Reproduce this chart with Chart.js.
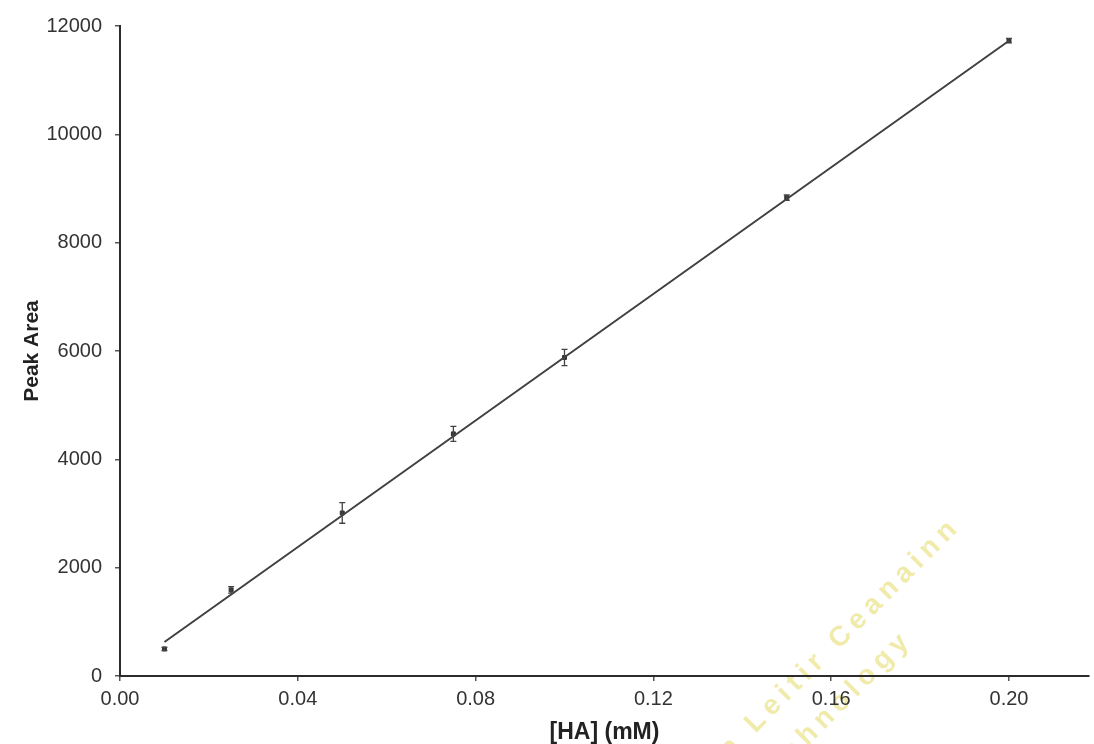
<!DOCTYPE html>
<html>
<head>
<meta charset="utf-8">
<script src="https://cdn.jsdelivr.net/npm/chart.js@4.4.0/dist/chart.umd.min.js"></script>
<style>
  html, body { margin: 0; padding: 0; background: #fff; }
  #wrap { width: 1094px; height: 744px; }
</style>
</head>
<body>
<div id="wrap"><canvas id="chart"></canvas></div>
<script>
// HA calibration data
const concs = [0.01, 0.025, 0.05, 0.075, 0.10, 0.15, 0.20];
const peakAreas = [500, 1590, 3010, 4470, 5880, 8830, 11730];
const peakErrors = [30, 60, 190, 140, 150, 50, 40];

// fitted line end points
const fitX = [0.01, 0.20];
const fitY = [628, 11727];

const xTicks = [0.00, 0.04, 0.08, 0.12, 0.16, 0.20];
const yTicks = [0, 2000, 4000, 6000, 8000, 10000, 12000];

const ink = "#2b2b2b";

// error bars
const errorBars = {
  id: "errorBars",
  afterDatasetsDraw(chart) {
    const { ctx, scales: { x, y } } = chart;
    ctx.save();
    ctx.strokeStyle = "#444";
    ctx.lineWidth = 1.3;
    concs.forEach((c, i) => {
      const px = x.getPixelForValue(c);
      const top = y.getPixelForValue(peakAreas[i] + peakErrors[i]);
      const bot = y.getPixelForValue(peakAreas[i] - peakErrors[i]);
      ctx.beginPath();
      ctx.moveTo(px, top); ctx.lineTo(px, bot);
      ctx.moveTo(px - 3, top); ctx.lineTo(px + 3, top);
      ctx.moveTo(px - 3, bot); ctx.lineTo(px + 3, bot);
      ctx.stroke();
    });
    ctx.restore();
  }
};

// scanned page watermark
function wmLine(ctx, text, ax, ay) {
  ctx.save();
  ctx.fillStyle = "rgba(225, 215, 85, 0.5)";
  ctx.font = "bold 28px 'Liberation Sans', Arial, sans-serif";
  ctx.textAlign = "right";
  ctx.textBaseline = "alphabetic";
  if ("letterSpacing" in ctx) ctx.letterSpacing = "6px";
  ctx.translate(ax, ay);
  ctx.rotate(-Math.PI / 4);
  ctx.fillText(text, 0, 0);
  ctx.restore();
}

const watermark = {
  id: "watermark",
  beforeDraw(chart) {
    wmLine(chart.ctx, "Institiúid Teicneolaíochta Leitir Ceanainn", 962, 527);
    wmLine(chart.ctx, "Letterkenny Institute of Technology", 914, 640);
  }
};

new Chart(document.getElementById("chart"), {
  type: "scatter",
  data: {
    datasets: [
      {
        label: "fit",
        type: "line",
        data: fitX.map((v, i) => ({ x: v, y: fitY[i] })),
        borderColor: "#404040",
        borderWidth: 2,
        pointRadius: 0,
        fill: false
      },
      {
        label: "Peak Area",
        data: concs.map((v, i) => ({ x: v, y: peakAreas[i] })),
        backgroundColor: "#333",
        borderColor: "#333",
        pointRadius: 2.8,
        pointStyle: "rect"
      }
    ]
  },
  options: {
    responsive: true,
    maintainAspectRatio: false,
    animation: false,
    layout: { padding: { top: 26, right: 0, left: 0, bottom: 0 } },
    plugins: {
      legend: { display: false },
      tooltip: { enabled: false }
    },
    scales: {
      x: {
        type: "linear",
        min: 0,
        max: 0.218,
        afterBuildTicks: s => { s.ticks = xTicks.map(v => ({ value: v })); },
        afterFit: s => { s.height = 68; },
        border: { color: ink, width: 2 },
        grid: { drawOnChartArea: false, drawTicks: true, tickLength: 5, color: "#555", lineWidth: 1.5 },
        ticks: {
          padding: 6,
          color: "#333",
          font: { family: "'Liberation Sans', Arial, sans-serif", size: 20 },
          maxRotation: 0,
          callback: v => v.toFixed(2)
        },
        title: {
          display: true,
          text: "[HA] (mM)",
          color: "#222",
          font: { family: "'Liberation Sans', Arial, sans-serif", size: 23, weight: "bold", lineHeight: 1 },
          padding: { top: 0, bottom: 0 }
        }
      },
      y: {
        min: 0,
        max: 12000,
        afterBuildTicks: s => { s.ticks = yTicks.map(v => ({ value: v })); },
        afterFit: s => { s.width = 120; },
        border: { color: ink, width: 2 },
        grid: { drawOnChartArea: false, drawTicks: true, tickLength: 5, color: "#555", lineWidth: 1.5 },
        ticks: {
          padding: 13,
          color: "#333",
          font: { family: "'Liberation Sans', Arial, sans-serif", size: 20 },
          callback: v => String(v)
        },
        title: {
          display: true,
          text: "Peak Area",
          color: "#222",
          font: { family: "'Liberation Sans', Arial, sans-serif", size: 21, weight: "bold", lineHeight: 1 },
          padding: { top: 22, bottom: 0 }
        }
      }
    }
  },
  plugins: [watermark, errorBars]
});
</script>
</body>
</html>
